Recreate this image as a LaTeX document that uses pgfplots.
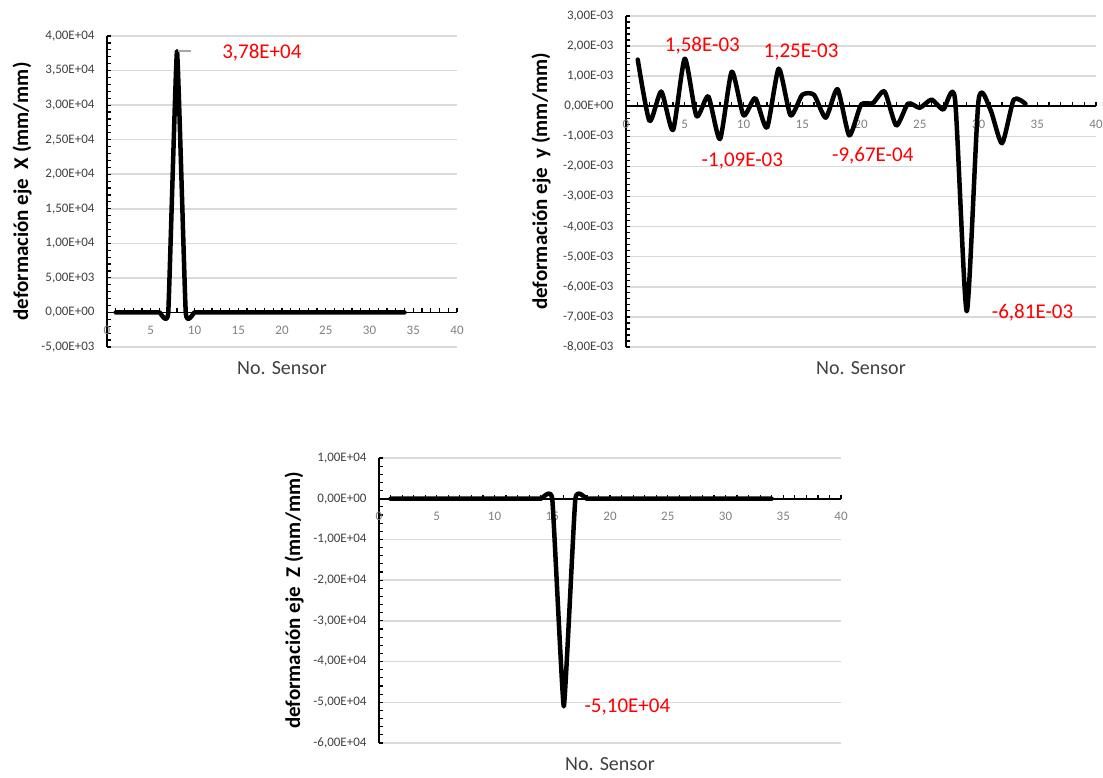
\documentclass[border=0pt]{standalone}
\usepackage{fontspec}
\setmainfont{Carlito}
\usepackage{pgfplots}
\pgfplotsset{compat=1.18}

\definecolor{gridgray}{HTML}{D9D9D9}
\definecolor{ticktext}{HTML}{404040}
\definecolor{xtext}{HTML}{808080}
\definecolor{leadgray}{HTML}{A6A6A6}

\pgfplotsset{
  sensorstyle/.style={
    scale only axis,
    anchor=south west,
    xmin=0, xmax=40,
    axis x line*=middle,
    axis y line*=left,
    axis line style={line width=1.8pt, black},
    xtick={0,5,...,40},
    xticklabels={0,5,10,15,20,25,30,35,40},
    hide obscured x ticks=false,
    scaled y ticks=false,
    minor x tick num=4,
    minor y tick num=4,
    tick align=inside,
    major tick length=4pt,
    minor tick length=4pt,
    tick style={black, line width=1.2pt},
    ymajorgrids=true,
    grid style={gridgray, line width=1.5pt},
    xticklabel style={font=\fontsize{13}{13}\selectfont, text=xtext, yshift=-10pt},
    yticklabel style={font=\fontsize{13}{13}\selectfont, text=ticktext, xshift=-9pt},
    xlabel={No. Sensor},
    xlabel style={at={(axis description cs:0.5,0)}, yshift=-21pt, anchor=center,
      font=\fontsize{20}{20}\selectfont, text=ticktext},
    ylabel style={at={(axis description cs:0,0.5)}, yshift=85pt, anchor=center,
      font=\bfseries\fontsize{21}{21}\selectfont},
  },
  dataline/.style={black, line width=4.5pt, smooth, line join=round, line cap=round},
}
\tikzset{tag/.style={red, font=\fontsize{21}{21}\selectfont}}

\begin{document}
\begin{tikzpicture}
\useasboundingbox (0,0) rectangle (1103pt,777pt);

% eje X
\begin{axis}[sensorstyle, at={(107pt,430pt)}, width=350pt, height=311pt,
  ymin=-5000, ymax=40000,
  ytick={-5000,0,...,40000},
  yticklabels={{-5,00E+03},{0,00E+00},{5,00E+03},{1,00E+04},{1,50E+04},{2,00E+04},{2,50E+04},{3,00E+04},{3,50E+04},{4,00E+04}},
  ylabel={deformación eje\ \ X (mm/mm)}]
\addplot[dataline, tension=0.2] coordinates {
  (1,0) (2,0) (3,0) (4,0) (5,0) (6,0) (7,0) (8,37800) (9,0) (10,0)
  (11,0) (12,0) (13,0) (14,0) (15,0) (16,0) (17,0) (18,0) (19,0) (20,0)
  (21,0) (22,0) (23,0) (24,0) (25,0) (26,0) (27,0) (28,0) (29,0) (30,0)
  (31,0) (32,0) (33,0) (34,0)
};
\draw[leadgray, line width=1.5pt] (axis cs:8.1,37800) -- (axis cs:9.55,37800);
\node[tag] at (axis cs:17.7,37600) {3,78E+04};
\end{axis}

% eje y
\begin{axis}[sensorstyle, at={(626pt,430pt)}, width=470pt, height=331pt,
  ymin=-0.008, ymax=0.003,
  ytick={-0.008,-0.007,-0.006,-0.005,-0.004,-0.003,-0.002,-0.001,0,0.001,0.002,0.003},
  yticklabels={{-8,00E-03},{-7,00E-03},{-6,00E-03},{-5,00E-03},{-4,00E-03},{-3,00E-03},{-2,00E-03},{-1,00E-03},{0,00E+00},{1,00E-03},{2,00E-03},{3,00E-03}},
  ylabel={deformación eje\ \ y (mm/mm)}]
\addplot[dataline, tension=0.38] coordinates {
  (1,0.00155) (2,-0.00049) (3,0.00049) (4,-0.00079) (5,0.00158)
  (6,-0.00033) (7,0.00033) (8,-0.00109) (9,0.00115) (10,-0.00030)
  (11,0.00027) (12,-0.00071) (13,0.00125) (14,-0.00030) (15,0.00038)
  (16,0.00038) (17,-0.00038) (18,0.00057) (19,-0.000967) (20,0.00005)
  (21,0.00010) (22,0.00049) (23,-0.00064) (24,0.00009) (25,-0.00005)
  (26,0.00022) (27,-0.00011) (28,0.00024) (29,-0.00681) (30,0.00018)
  (31,-0.00010) (32,-0.00123) (33,0.00022) (34,0.00008)
};
\node[tag] at (axis cs:6.5,0.00203) {1,58E-03};
\node[tag] at (axis cs:14.9,0.00180) {1,25E-03};
\node[tag] at (axis cs:9.9,-0.00183) {-1,09E-03};
\node[tag] at (axis cs:21.0,-0.00166) {-9,67E-04};
\node[tag] at (axis cs:34.6,-0.00685) {-6,81E-03};
\end{axis}

% eje Z
\begin{axis}[sensorstyle, at={(379pt,34pt)}, width=462pt, height=285pt,
  ymin=-60000, ymax=10000,
  ytick={-60000,-50000,...,10000},
  yticklabels={{-6,00E+04},{-5,00E+04},{-4,00E+04},{-3,00E+04},{-2,00E+04},{-1,00E+04},{0,00E+00},{1,00E+04}},
  ylabel={deformación eje\ \ Z (mm/mm)}]
\addplot[dataline, tension=0.2] coordinates {
  (1,0) (2,0) (3,0) (4,0) (5,0) (6,0) (7,0) (8,0) (9,0) (10,0)
  (11,0) (12,0) (13,0) (14,0) (15,0) (16,-51000) (17,0) (18,0) (19,0) (20,0)
  (21,0) (22,0) (23,0) (24,0) (25,0) (26,0) (27,0) (28,0) (29,0) (30,0)
  (31,0) (32,0) (33,0) (34,0)
};
\node[tag] at (axis cs:21.5,-51200) {-5,10E+04};
\end{axis}
\end{tikzpicture}
\end{document}
